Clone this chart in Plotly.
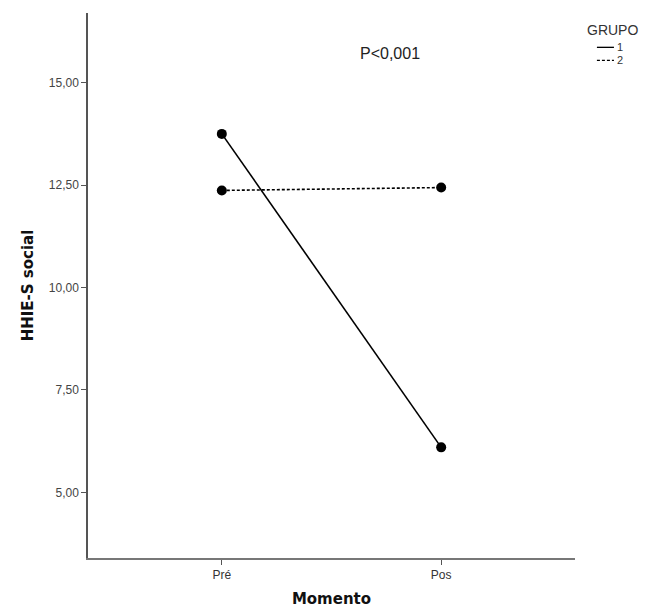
import plotly.graph_objects as go

# Estimated marginal means of HHIE-S social by moment and group
momentos = ["Pré", "Pos"]
grupo_1 = [13.75, 6.10]
grupo_2 = [12.37, 12.44]
grupos = ["1", "2"]
y_ticks = [5.0, 7.5, 10.0, 12.5, 15.0]

ESTILOS = ["solid", "3px,2px"]
FONTE = "Liberation Sans, Arial, sans-serif"
FONTE_TITULO = "DejaVu Sans, Verdana, sans-serif"

fig = go.Figure()

for valores, estilo in zip([grupo_1, grupo_2], ESTILOS):
    fig.add_trace(go.Scatter(
        x=momentos, y=valores, mode="lines+markers",
        line=dict(color="black", width=1.6, dash=estilo),
        marker=dict(color="black", size=10),
        showlegend=False, hoverinfo="x+y",
    ))

fig.add_annotation(
    text="P<0,001", xref="paper", yref="paper", x=0.62, y=0.945,
    showarrow=False, font=dict(family=FONTE, size=16, color="#222"),
)

# Compact legend: title plus short line samples
fig.add_annotation(
    text="GRUPO", xref="paper", yref="paper", x=1.02, y=0.968,
    xanchor="left", yanchor="middle", showarrow=False,
    font=dict(family=FONTE, size=14, color="#333"),
)
for i, (nome, estilo) in enumerate(zip(grupos, ESTILOS)):
    yy = 0.937 - i * 0.024
    fig.add_shape(
        type="line", xref="paper", yref="paper",
        x0=1.045, x1=1.08, y0=yy, y1=yy,
        line=dict(color="black", width=1.3, dash=estilo),
    )
    fig.add_annotation(
        text=nome, xref="paper", yref="paper", x=1.082, y=yy,
        xanchor="left", yanchor="middle", showarrow=False,
        font=dict(family=FONTE, size=11, color="#333"),
    )

fig.update_layout(
    width=648, height=612,
    margin=dict(l=88, r=73, t=13, b=54),
    paper_bgcolor="white", plot_bgcolor="white",
    separators=",.",
    showlegend=False,
    font=dict(family=FONTE, color="#333"),
    xaxis=dict(
        type="category", range=[-0.61, 1.61], automargin=False,
        showline=True, linecolor="#777", linewidth=1.5,
        ticks="outside", ticklen=5, tickcolor="#555",
        tickfont=dict(size=12, color="#333"),
        showgrid=False, zeroline=False,
        title=dict(text="<b>Momento</b>", font=dict(family=FONTE_TITULO, size=15, color="#111"), standoff=12),
    ),
    yaxis=dict(
        range=[3.4, 16.7], tickvals=y_ticks, tickformat=".2f", automargin=False,
        showline=True, linecolor="#555", linewidth=1.5,
        ticks="outside", ticklen=5, tickcolor="#555",
        tickfont=dict(size=12, color="#444"),
        showgrid=False, zeroline=False,
        title=dict(text="<b>HHIE-S social</b>", font=dict(family=FONTE_TITULO, size=15, color="#111"), standoff=12),
    ),
)

fig.write_html("out.html")
